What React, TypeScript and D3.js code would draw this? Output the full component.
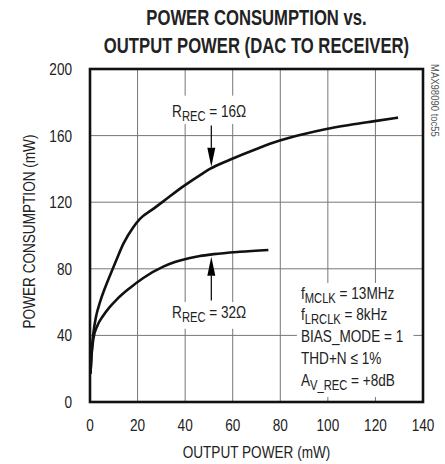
import React from "react";
import * as d3 from "d3";

const W = 445;
const H = 464;
const margin = { top: 69, right: 22, bottom: 62, left: 90 };

const font = "'Liberation Sans', Arial, sans-serif";
const SX = 0.8; // narrow the regular face to look like the condensed original

// output power (mW) vs power consumption (mW)
const rec16X = [0.2, 0.6, 1.4, 2.5, 4.2, 6.3, 8.4, 11, 14, 18.2, 21, 26.6, 30.8, 39.2, 47.6, 50.4, 58.8, 70, 79.8, 89.6, 99.4, 109.5, 119.7, 129.5];
const rec16Y = [17, 28, 41, 51, 60, 68.5, 76, 85, 95, 105, 110, 116, 120.5, 129.5, 137.5, 140, 145.5, 152, 157, 160.8, 164, 166.5, 168.7, 170.8];
const rec32X = [0.2, 0.6, 1.4, 3, 5.6, 8, 11.2, 16.8, 22.4, 30.8, 36, 42, 46.2, 52, 63, 75];
const rec32Y = [17, 27, 38, 45.5, 52, 56.5, 61.5, 68.5, 74.5, 81.3, 84.2, 86.5, 87.7, 88.8, 90.2, 91.3];

const xTicks = [0, 20, 40, 60, 80, 100, 120, 140];
const yTicks = [0, 40, 80, 120, 160, 200];

const legendLines = [
  { main: "f", sub: "MCLK", rest: " = 13MHz" },
  { main: "f", sub: "LRCLK", rest: " = 8kHz" },
  { main: "BIAS_MODE = 1", sub: "", rest: "" },
  { main: "THD+N \u2264 1%", sub: "", rest: "" },
  { main: "A", sub: "V_REC", rest: " = +8dB" },
];

type TProps = {
  x: number;
  y: number;
  size?: number;
  anchor?: "start" | "middle" | "end";
  rotate?: number;
  sx?: number;
  weight?: string;
  fill?: string;
  dy?: string;
  children: React.ReactNode;
};

function T({ x, y, size = 17, anchor = "start", rotate = 0, sx = SX, weight = "normal", fill = "#222", dy, children }: TProps) {
  return (
    <text
      transform={`translate(${x},${y}) rotate(${rotate}) scale(${sx},1)`}
      textAnchor={anchor}
      fontSize={size}
      fontWeight={weight}
      fill={fill}
      dy={dy}
    >
      {children}
    </text>
  );
}

export default function App() {
  const x = d3.scaleLinear().domain([0, 140]).range([margin.left, W - margin.right]);
  const y = d3.scaleLinear().domain([0, 200]).range([H - margin.bottom, margin.top]);

  const line = d3
    .line<[number, number]>()
    .x((d) => x(d[0]))
    .y((d) => y(d[1]))
    .curve(d3.curveMonotoneX);

  const d16 = line(rec16X.map((v, i) => [v, rec16Y[i]] as [number, number])) || "";
  const d32 = line(rec32X.map((v, i) => [v, rec32Y[i]] as [number, number])) || "";

  const arrow = (xv: number, tail: number, tip: number) => {
    const xt = x(xv);
    const yTip = y(tip);
    const dir = tip < tail ? 1 : -1;
    const yBase = yTip - dir * 19;
    return (
      <g>
        <line x1={xt} x2={xt} y1={y(tail)} y2={yBase} stroke="#000" strokeWidth={1.2} />
        <polygon points={`${xt},${yTip} ${xt - 4},${yBase} ${xt + 4},${yBase}`} fill="#000" />
      </g>
    );
  };

  const plotW = W - margin.right - margin.left;
  const cx = margin.left + plotW / 2;

  return (
    <svg width={W} height={H} style={{ position: "absolute", left: 0, top: 0, background: "#fff" }} fontFamily={font}>
      {/* title */}
      <T x={cx} y={25} size={23} weight="bold" anchor="middle" sx={0.725}>
        POWER CONSUMPTION vs.
      </T>
      <T x={cx} y={53} size={23} weight="bold" anchor="middle" sx={0.725}>
        OUTPUT POWER (DAC TO RECEIVER)
      </T>

      {/* grid */}
      <g stroke="#777" strokeWidth={1}>
        {xTicks.slice(1, -1).map((t) => (
          <line key={"gx" + t} x1={x(t)} x2={x(t)} y1={y(200)} y2={y(0)} />
        ))}
        {yTicks.slice(1, -1).map((t) => (
          <line key={"gy" + t} x1={x(0)} x2={x(140)} y1={y(t)} y2={y(t)} />
        ))}
      </g>

      {/* label backgrounds */}
      <rect x={x(33)} y={y(184)} width={x(70) - x(33)} height={y(167) - y(184)} fill="#fff" />
      <rect x={x(33)} y={y(60)} width={x(70) - x(33)} height={y(44) - y(60)} fill="#fff" />
      <rect x={x(87)} y={y(71.5)} width={x(136) - x(87)} height={y(3) - y(71.5)} fill="#fff" />

      {/* curves */}
      <path d={d16} fill="none" stroke="#111" strokeWidth={2.6} strokeLinejoin="round" />
      <path d={d32} fill="none" stroke="#111" strokeWidth={2.6} strokeLinejoin="round" />

      {/* annotations */}
      <T x={x(34.5)} y={y(171.4)}>
        R<tspan fontSize={14} dy={4}>REC</tspan>
        <tspan dy={-4}> = 16Ω</tspan>
      </T>
      {arrow(51, 166, 141.3)}
      <T x={x(34.5)} y={y(50.3)}>
        R<tspan fontSize={14} dy={4}>REC</tspan>
        <tspan dy={-4}> = 32Ω</tspan>
      </T>
      {arrow(51, 61, 87.3)}

      {/* conditions */}
      {legendLines.map((l, i) => (
        <T key={"lg" + i} x={x(88.7)} y={y(62) + i * 21.7}>
          {l.main}
          {l.sub && (
            <tspan fontSize={14} dy={4}>
              {l.sub}
            </tspan>
          )}
          {l.rest && <tspan dy={-4}>{l.rest}</tspan>}
        </T>
      ))}

      {/* frame */}
      <rect x={x(0)} y={y(200)} width={plotW} height={y(0) - y(200)} fill="none" stroke="#111" strokeWidth={2.6} />

      {/* ticks */}
      {xTicks.map((t) => (
        <T key={"tx" + t} x={x(t)} y={431} anchor="middle">
          {t}
        </T>
      ))}
      {yTicks.map((t) => (
        <T key={"ty" + t} x={72} y={y(t)} dy="0.35em" anchor="end">
          {t}
        </T>
      ))}

      {/* axis titles */}
      <T x={cx} y={458} anchor="middle">
        OUTPUT POWER (mW)
      </T>
      <T x={35} y={(y(0) + y(200)) / 2 - 4} rotate={-90} anchor="middle">
        POWER CONSUMPTION (mW)
      </T>
      <T x={431} y={64} rotate={90} size={10} sx={0.95} fill="#555">
        MAX98090 toc55
      </T>
    </svg>
  );
}
